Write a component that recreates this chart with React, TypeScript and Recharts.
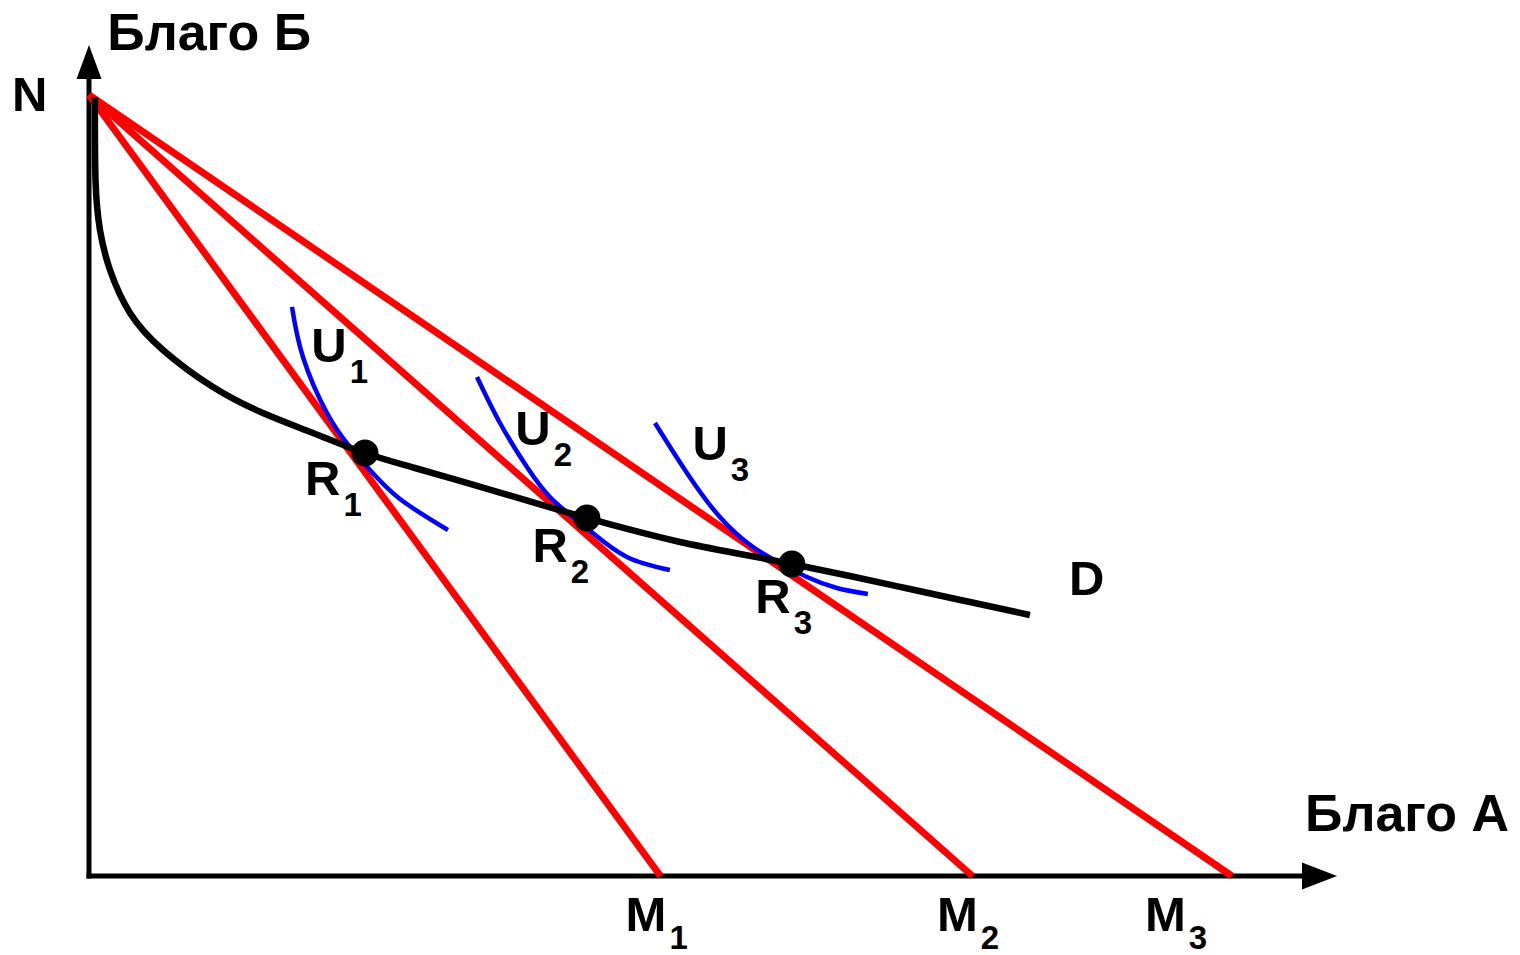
import React from 'react';
import {
  ComposedChart,
  Line,
  Scatter,
  XAxis,
  YAxis,
  ReferenceLine,
  ReferenceDot,
} from 'recharts';

// ---- data (units: quantity of good A on x, good B on y) ----
const incomeN = 100; // N: all income spent on good B
const budgetIntercepts = [50, 77.3, 100]; // M1, M2, M3 on the good A axis

const curveD = [
  { x: 0.52, y: 99.74 },
  { x: 0.57, y: 89.12 },
  { x: 0.96, y: 82.71 },
  { x: 1.84, y: 77.59 },
  { x: 3.59, y: 72.09 },
  { x: 6.47, y: 67.35 },
  { x: 10.85, y: 62.61 },
  { x: 15.22, y: 59.28 },
  { x: 19.6, y: 56.72 },
  { x: 24.15, y: 54.16 },
  { x: 28.52, y: 52.24 },
  { x: 32.46, y: 50.58 },
  { x: 36.4, y: 48.91 },
  { x: 39.9, y: 47.38 },
  { x: 43.57, y: 45.84 },
  { x: 47.77, y: 44.18 },
  { x: 51.71, y: 42.77 },
  { x: 56.52, y: 41.36 },
  { x: 61.5, y: 39.95 },
  { x: 66.58, y: 38.41 },
  { x: 71.83, y: 36.75 },
  { x: 77.08, y: 35.08 },
  { x: 82.33, y: 33.42 },
];

const curveU1 = [
  { x: 17.76, y: 72.86 },
  { x: 18.72, y: 66.45 },
  { x: 20.82, y: 59.28 },
  { x: 22.83, y: 54.93 },
  { x: 24.58, y: 51.98 },
  { x: 27.21, y: 48.27 },
  { x: 31.41, y: 44.3 },
];

const curveU2 = [
  { x: 33.95, y: 63.89 },
  { x: 35.96, y: 58.0 },
  { x: 38.32, y: 52.37 },
  { x: 40.33, y: 48.53 },
  { x: 42.34, y: 45.97 },
  { x: 44.09, y: 43.92 },
  { x: 47.07, y: 40.85 },
  { x: 50.83, y: 39.18 },
];

const curveU3 = [
  { x: 49.52, y: 58.0 },
  { x: 52.32, y: 51.6 },
  { x: 55.2, y: 45.97 },
  { x: 58.09, y: 42.13 },
  { x: 60.45, y: 40.08 },
  { x: 62.82, y: 38.28 },
  { x: 65.44, y: 36.88 },
  { x: 68.15, y: 36.11 },
];

const optimumPoints = [
  { x: 24.15, y: 54.16 },
  { x: 43.57, y: 45.84 },
  { x: 61.5, y: 39.95 },
];

const xMax = 109.2;
const yMax = 106.4;

// ---- annotations: main text, subscript, anchor (data units) ----
const labelTexts = [
  { main: 'Благо Б', sub: '', x: 1.6, y: 105.8, size: 52 },
  { main: 'N', sub: '', x: -6.74, y: 98.0, size: 49 },
  { main: 'Благо А', sub: '', x: 106.4, y: 5.8, size: 52 },
  { main: 'M', sub: '1', x: 46.95, y: -7.1, size: 49 },
  { main: 'M', sub: '2', x: 74.2, y: -7.1, size: 49 },
  { main: 'M', sub: '3', x: 92.4, y: -7.1, size: 49 },
  { main: 'U', sub: '1', x: 19.45, y: 65.8, size: 49 },
  { main: 'U', sub: '2', x: 37.3, y: 55.2, size: 49 },
  { main: 'U', sub: '3', x: 52.8, y: 53.3, size: 49 },
  { main: 'R', sub: '1', x: 18.9, y: 48.8, size: 49 },
  { main: 'R', sub: '2', x: 38.8, y: 40.2, size: 49 },
  { main: 'R', sub: '3', x: 58.3, y: 33.7, size: 49 },
  { main: 'D', sub: '', x: 85.75, y: 36.0, size: 49 },
];

const FONT = '"Liberation Sans", Arial, Helvetica, sans-serif';

const budgetLines = budgetIntercepts.map((m) => [
  { x: 0, y: incomeN },
  { x: m, y: 0 },
]);

const makeLabelShape = (l: any) => (props: any) => (
  <text
    x={props.cx}
    y={props.cy}
    fontFamily={FONT}
    fontWeight="bold"
    fontSize={l.size}
    fill="#000"
  >
    {l.main}
    {l.sub ? (
      <tspan dx={3} dy={l.y < 0 ? 18 : 21} fontSize={33}>
        {l.sub}
      </tspan>
    ) : null}
  </text>
);

const yArrow = (props: any) => (
  <polygon
    points={`${props.cx},${props.cy} ${props.cx - 12.5},${props.cy + 34} ${props.cx + 12.5},${props.cy + 34}`}
    fill="#000"
  />
);

const xArrow = (props: any) => (
  <polygon
    points={`${props.cx},${props.cy} ${props.cx - 35},${props.cy - 13.5} ${props.cx - 35},${props.cy + 13.5}`}
    fill="#000"
  />
);

const dotShape = (props: any) => <circle cx={props.cx} cy={props.cy} r={13.5} fill="#000" />;

export default function App() {
  return (
    <div
      style={{
        position: 'absolute',
        left: 0,
        top: 0,
        width: 1520,
        height: 955,
        overflow: 'hidden',
        background: '#fff',
      }}
    >
      <ComposedChart
        width={1520}
        height={955}
        margin={{ top: 45, right: 183, bottom: 79, left: 89 }}
      >
        <XAxis type="number" dataKey="x" domain={[0, xMax]} hide />
        <YAxis type="number" dataKey="y" domain={[0, yMax]} hide />

        <ReferenceLine
          segment={[{ x: 0, y: 0 }, { x: 107, y: 0 }]}
          stroke="#000"
          strokeWidth={5}
          strokeLinecap="square"
          ifOverflow="visible"
        />
        <ReferenceLine
          segment={[{ x: 0, y: 0 }, { x: 0, y: 103 }]}
          stroke="#000"
          strokeWidth={5}
          strokeLinecap="square"
          ifOverflow="visible"
        />
        <ReferenceDot x={0} y={yMax} ifOverflow="visible" shape={yArrow} />
        <ReferenceDot x={xMax} y={0} ifOverflow="visible" shape={xArrow} />

        {budgetLines.map((d, i) => (
          <Line
            key={'b' + i}
            data={d}
            dataKey="y"
            type="linear"
            stroke="#ff0000"
            strokeWidth={7}
            dot={false}
            activeDot={false}
            isAnimationActive={false}
          />
        ))}

        {[curveU1, curveU2, curveU3].map((d, i) => (
          <Line
            key={'u' + i}
            data={d}
            dataKey="y"
            type="natural"
            stroke="#0000ff"
            strokeWidth={4.5}
            dot={false}
            activeDot={false}
            isAnimationActive={false}
          />
        ))}

        <Line
          data={curveD}
          dataKey="y"
          type="natural"
          stroke="#000"
          strokeWidth={6.5}
          dot={false}
          activeDot={false}
          isAnimationActive={false}
        />

        <Scatter data={optimumPoints} fill="#000" shape={dotShape} isAnimationActive={false} />

        {labelTexts.map((l, i) => (
          <ReferenceDot
            key={'l' + i}
            x={l.x}
            y={l.y}
            ifOverflow="visible"
            shape={makeLabelShape(l)}
          />
        ))}
      </ComposedChart>
    </div>
  );
}
